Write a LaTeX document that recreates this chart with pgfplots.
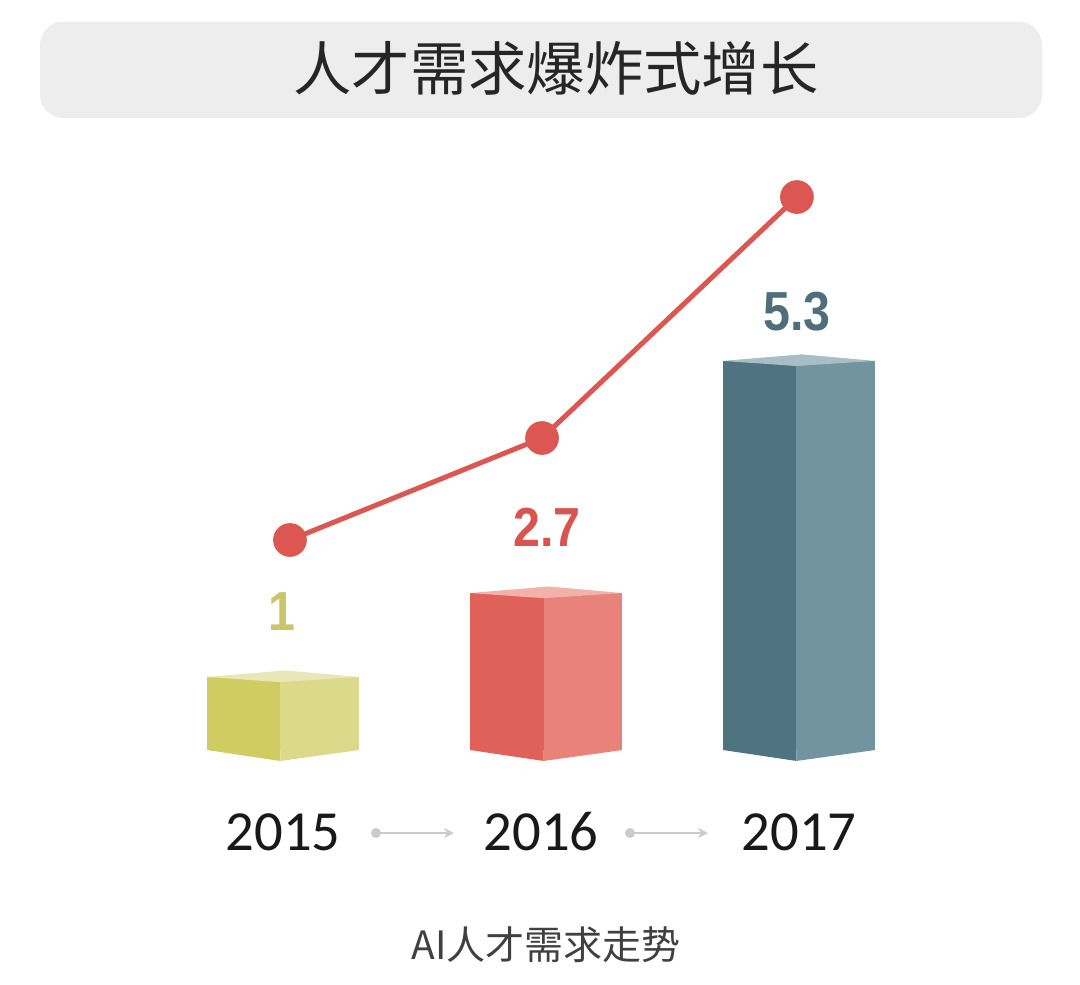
\documentclass[border=0pt]{standalone}
\usepackage{pgfplots}
\pgfplotsset{compat=1.18}
\usetikzlibrary{arrows.meta}
\usepackage{fontspec}
\setmainfont{Carlito}
\newfontfamily\cjk{Noto Sans CJK SC}
\newfontfamily\labfont{Liberation Sans}
\definecolor{yL}{HTML}{D0CC62}
\definecolor{yR}{HTML}{DCD98A}
\definecolor{yT}{HTML}{E9E7B8}
\definecolor{rL}{HTML}{E0605A}
\definecolor{rR}{HTML}{E8827A}
\definecolor{rT}{HTML}{F2B2AA}
\definecolor{bL}{HTML}{4E7381}
\definecolor{bR}{HTML}{7294A0}
\definecolor{bT}{HTML}{A8BEC4}
\definecolor{linered}{HTML}{DC5652}
\definecolor{lab1}{HTML}{C8C56A}
\definecolor{lab2}{HTML}{D9534F}
\definecolor{lab3}{HTML}{4F6E7A}
\definecolor{titlegray}{HTML}{EDEDED}
\definecolor{arrowgray}{HTML}{CBCBCB}
\begin{document}
\begin{tikzpicture}
\useasboundingbox (0,0) rectangle (324pt,295.2pt);
\fill[white] (0,0) rectangle (324pt,295.2pt);
\begin{scope}[x=0.3pt,y=-0.3pt,shift={(0pt,295.2pt)}]
  \fill[black!7, rounded corners=7pt] (40,22) rectangle (1042,118);
  \fill[titlegray, rounded corners=6pt] (42,22) rectangle (1040,113);
  \node[font=\cjk\fontsize{17.5}{17.5}\selectfont, text=black!85] at (556,68) {人才需求爆炸式增长};
\end{scope}
\begin{axis}[
  at={(0pt,0pt)}, anchor=south west,
  scale only axis, width=324pt, height=295.2pt,
  xmin=-1.0969, xmax=3.0891, ymin=-3.2055, ymax=10.274,
  clip=false,
  axis line style={draw=none},
  major tick length=0pt,
  ytick=\empty,
  xtick={0,1,2},
  xticklabels={2015,2016,2017},
  xticklabel style={font=\fontsize{17}{17}\selectfont, text=black!90, anchor=center, yshift=45.6pt},
]
% 2015 bar
\addplot[ybar, bar width=0.285, bar shift=-0.1525, fill=yL, draw=none] coordinates {(0,1.0)};
\addplot[ybar, bar width=0.305, bar shift=0.1425, fill=yR, draw=none] coordinates {(0,1.0)};
\addplot[fill=yT, draw=none] coordinates {(-0.295,1.0) (-0.01,0.93) (0.295,1.0) (0.01,1.09)} --cycle;
\addplot[fill=yL, draw=none] coordinates {(-0.295,0) (-0.01,0) (-0.01,-0.15)} --cycle;
\addplot[fill=yR, draw=none] coordinates {(-0.01,0) (0.295,0) (-0.01,-0.15)} --cycle;
% 2016 bar
\addplot[ybar, bar width=0.285, bar shift=-0.1525, fill=rL, draw=none] coordinates {(1.02,2.15)};
\addplot[ybar, bar width=0.305, bar shift=0.1425, fill=rR, draw=none] coordinates {(1.02,2.15)};
\addplot[fill=rT, draw=none] coordinates {(0.725,2.15) (1.01,2.08) (1.315,2.15) (1.03,2.24)} --cycle;
\addplot[fill=rL, draw=none] coordinates {(0.725,0) (1.01,0) (1.01,-0.15)} --cycle;
\addplot[fill=rR, draw=none] coordinates {(1.01,0) (1.315,0) (1.01,-0.15)} --cycle;
% 2017 bar
\addplot[ybar, bar width=0.285, bar shift=-0.1525, fill=bL, draw=none] coordinates {(2,5.33)};
\addplot[ybar, bar width=0.305, bar shift=0.1425, fill=bR, draw=none] coordinates {(2,5.33)};
\addplot[fill=bT, draw=none] coordinates {(1.705,5.33) (1.99,5.26) (2.295,5.33) (2.01,5.42)} --cycle;
\addplot[fill=bL, draw=none] coordinates {(1.705,0) (1.99,0) (1.99,-0.15)} --cycle;
\addplot[fill=bR, draw=none] coordinates {(1.99,0) (2.295,0) (1.99,-0.15)} --cycle;
% trend line
\addplot[linered, line width=1.5pt, mark=*, mark size=4.3pt, mark options={fill=linered, draw=none}] coordinates {(0.027,2.877) (1.004,4.274) (1.992,7.575)};
% value labels
\node[font=\labfont\bfseries\fontsize{16.5}{16.5}\selectfont, text=lab1] at (axis cs:-0.004,1.89) {\scalebox{0.88}[1]{1}};
\node[font=\labfont\bfseries\fontsize{16.5}{16.5}\selectfont, text=lab2] at (axis cs:1.023,3.05) {\scalebox{0.88}[1]{2.7}};
\node[font=\labfont\bfseries\fontsize{16.5}{16.5}\selectfont, text=lab3] at (axis cs:1.992,6.0) {\scalebox{0.88}[1]{5.3}};
\end{axis}
\begin{scope}[x=0.3pt,y=-0.3pt,shift={(0pt,295.2pt)}]
  \draw[arrowgray, line width=0.6pt, -{Stealth[length=3pt,width=3pt]}] (376,833) -- (454,833);
  \fill[arrowgray] (376,833) circle (5);
  \draw[arrowgray, line width=0.6pt, -{Stealth[length=3pt,width=3pt]}] (630,833) -- (708,833);
  \fill[arrowgray] (630,833) circle (5);
  \node[font=\cjk\fontsize{11.7}{11.7}\selectfont, text=black!75] at (546,945) {AI人才需求走势};
\end{scope}
\end{tikzpicture}
\end{document}
